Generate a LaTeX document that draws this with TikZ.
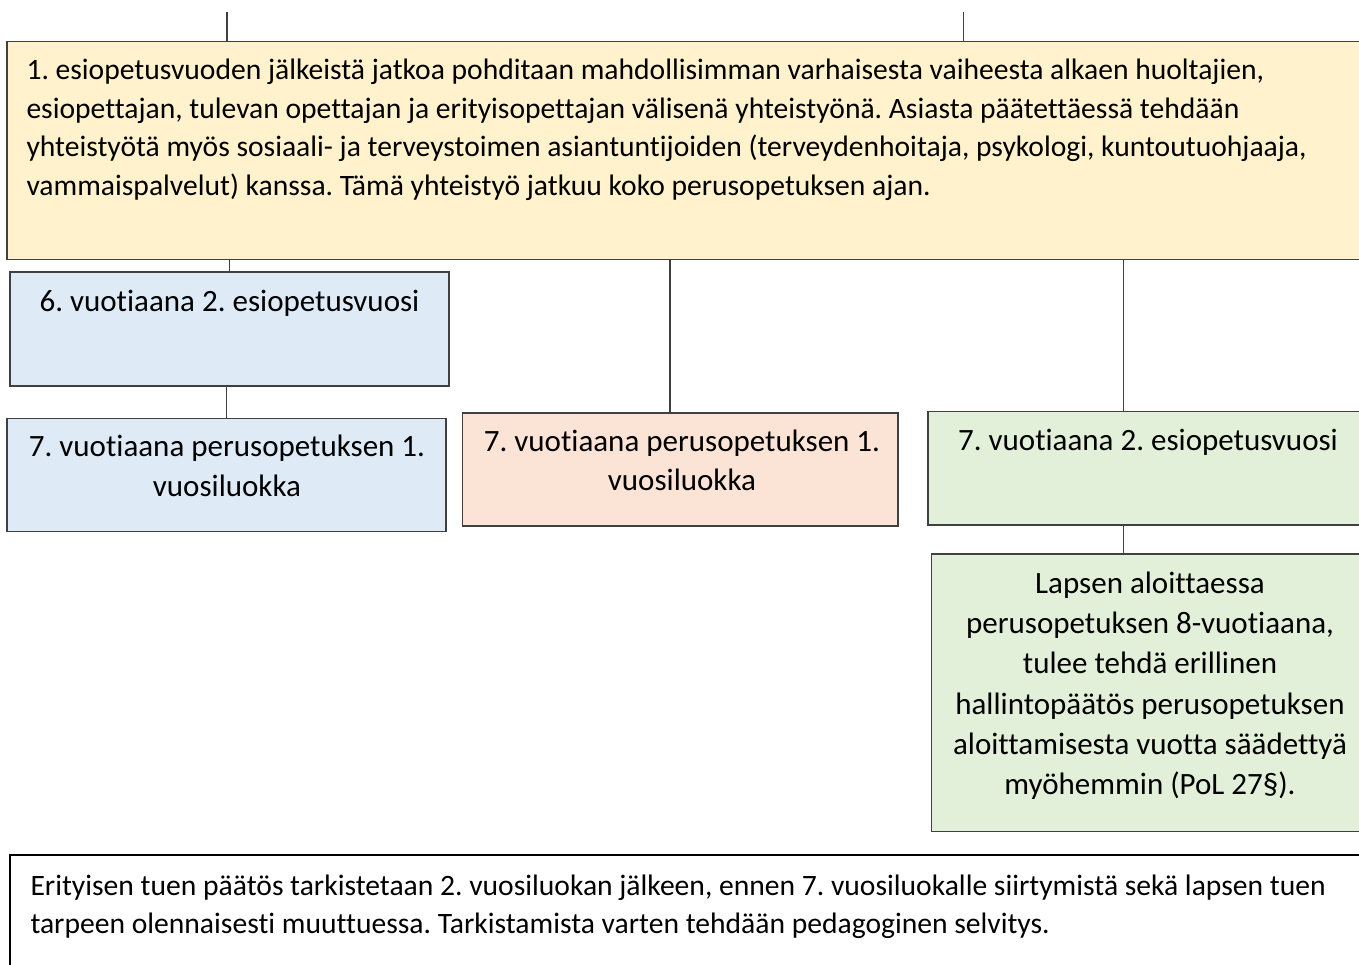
\documentclass[tikz,border=0pt]{standalone}
\usepackage{fontspec}
\setmainfont{Carlito}[Ligatures=NoCommon]
\frenchspacing
\definecolor{cgold}{HTML}{FFF2CC}
\definecolor{cblue}{HTML}{DEEBF7}
\definecolor{corange}{HTML}{FBE4D5}
\definecolor{cgreen}{HTML}{E2EFD9}
\definecolor{cline}{HTML}{404040}
\newcommand\fsz[1]{\fontsize{31}{#1}\selectfont}
\newcommand\fss[1]{\fontsize{29.6}{#1}\selectfont}
\tikzset{
  box/.style={draw=cline, line width=1.4pt, inner sep=0pt, outer sep=0pt, anchor=north west},
  conn/.style={draw=cline, line width=1.6pt},
  txt/.style={inner sep=0pt, outer sep=0pt, text=black},
}
\begin{document}
\begin{tikzpicture}[x=1pt,y=-1pt]
\useasboundingbox (0,0) rectangle (1359,965);
\clip (0,0) rectangle (1359,965);
% boxes
\node[box, fill=cgold, minimum width=1380pt, minimum height=217.6pt] (top) at (7,41.7) {};
\node[box, fill=cblue, minimum width=439pt, minimum height=114pt] (b6) at (10,272) {};
\node[box, fill=cblue, minimum width=439pt, minimum height=113.4pt] (b7) at (7,418.3) {};
\node[box, fill=corange, minimum width=435.3pt, minimum height=113pt] (or) at (462.7,413) {};
\node[box, fill=cgreen, minimum width=440pt, minimum height=113.3pt] (g1) at (928,411.7) {};
\node[box, fill=cgreen, minimum width=437pt, minimum height=277.7pt] (g2) at (931.7,554) {};
\node[box, draw=black, line width=2.5pt, fill=white, minimum width=1380pt, minimum height=130pt] (bot) at (10,855) {};
% connectors
\coordinate (t1) at (227,12);
\coordinate (t2) at (963.3,12);
\coordinate (xo) at (670,0);
\coordinate (xg) at (1123.3,0);
\draw[conn] (t1) -- (t1 |- top.north);
\draw[conn] (t2) -- (t2 |- top.north);
\draw[conn] (top.south -| b6.north) -- (b6.north);
\draw[conn] (b6.south -| b7.north) -- (b7.north);
\draw[conn] (top.south -| xo) -- (or.north -| xo);
\draw[conn] (top.south -| xg) -- (g1.north -| xg);
\draw[conn] (g1.south -| xg) -- (g2.north -| xg);
% texts
\node[txt, font=\fss{38.5}, anchor=north west, align=left] (ttop) at (26.5,53.05)
  {\strut 1. esiopetusvuoden jälkeistä jatkoa pohditaan mahdollisimman varhaisesta vaiheesta alkaen huoltajien,\\
   esiopettajan, tulevan opettajan ja erityisopettajan välisenä yhteistyönä. Asiasta päätettäessä tehdään\\
   yhteistyötä myös sosiaali- ja terveystoimen asiantuntijoiden (terveydenhoitaja, psykologi, kuntoutuohjaaja,\\
   vammaispalvelut) kanssa. Tämä yhteistyö jatkuu koko perusopetuksen ajan.};
\node[txt, font=\fsz{40}, anchor=north, align=center] (tb6) at (229.5,283.7)
  {\strut 6. vuotiaana 2. esiopetusvuosi};
\node[txt, font=\fsz{40}, anchor=north, align=center] (tb7) at (227,428.7)
  {\strut 7. vuotiaana perusopetuksen 1.\\ vuosiluokka};
\node[txt, font=\fsz{38.5}, anchor=north, align=center] (tor) at (682,424.75)
  {\strut 7. vuotiaana perusopetuksen 1.\\ vuosiluokka};
\node[txt, font=\fsz{40}, anchor=north, align=center] (tg1) at (1148,422.7)
  {\strut 7. vuotiaana 2. esiopetusvuosi};
\node[txt, font=\fsz{40.3}, anchor=north, align=center] (tg2) at (1150,565.1)
  {\strut Lapsen aloittaessa\\ perusopetuksen 8-vuotiaana,\\ tulee tehdä erillinen\\ hallintopäätös perusopetuksen\\ aloittamisesta vuotta säädettyä\\ myöhemmin (PoL 27§).};
\node[txt, font=\fss{38.5}, anchor=north west, align=left] (tbot) at (30.5,868.05)
  {\strut Erityisen tuen päätös tarkistetaan 2. vuosiluokan jälkeen, ennen 7. vuosiluokalle siirtymistä sekä lapsen tuen\\
   tarpeen olennaisesti muuttuessa. Tarkistamista varten tehdään pedagoginen selvitys.};
\end{tikzpicture}
\end{document}
